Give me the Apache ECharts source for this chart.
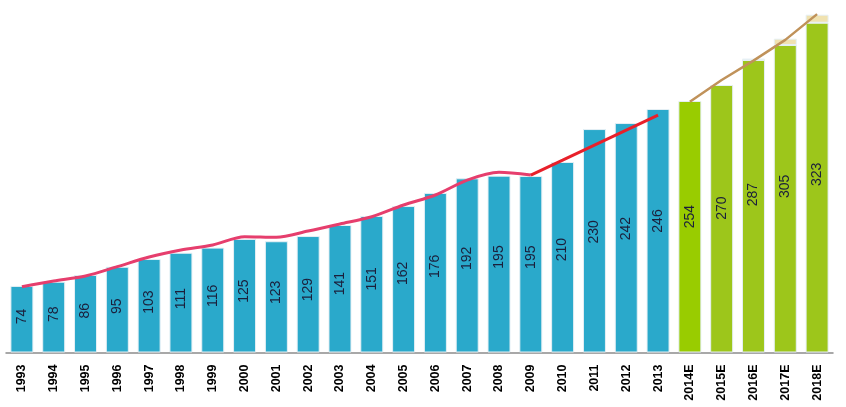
<!DOCTYPE html>
<html>
<head>
<meta charset="utf-8">
<script src="https://cdn.jsdelivr.net/npm/echarts@6/dist/echarts.min.js"></script>
<style>html,body{margin:0;padding:0;background:#fff;}#c{width:846px;height:407px;}</style>
</head>
<body>
<div id="c"></div>
<script>
const categories = ['1993','1994','1995','1996','1997','1998','1999','2000','2001','2002','2003','2004','2005','2006','2007','2008','2009','2010','2011','2012','2013','2014E','2015E','2016E','2017E','2018E'];
// value labels printed on the bars
const valueLabels = [74,78,86,95,103,111,116,125,123,129,141,151,162,176,192,195,195,210,230,242,246,254,270,287,305,323];
// bar heights as drawn in the picture (axis units)
const barHeights = [73,77.6,85,94,102.5,109.4,115,124.5,122,127.7,139.8,149.7,160.6,175,191,193.9,193.5,208.9,245,251.6,267,275.8,293.3,320.7,337.2,361.6];
// light caps on top of forecast bars
const capHeights = [null,null,null,null,null,null,null,null,null,null,null,null,null,null,null,null,null,null,null,null,null,null,null,1.6,6.9,8.8];
// trend lines
const pinkLine = [72.1,78.4,83.9,94.1,104.7,112.4,117.9,127,126.3,133.2,140.9,148.9,161.7,172.7,189.1,197.6,194.6,null,null,null,null,null,null,null,null,null];
const redLine = [null,null,null,null,null,null,null,null,null,null,null,null,null,null,null,null,194.6,211,227.5,243.9,260.3,null,null,null,null,null];
const tanLine = [null,null,null,null,null,null,null,null,null,null,null,null,null,null,null,null,null,null,null,null,null,275,298.8,320,342.8,371];

const blue = '#2aa9cb';
const greenFirst = '#99cc00';
const green = '#9dc61b';

const chart = echarts.init(document.getElementById('c'), null, {renderer: 'canvas'});
chart.setOption({
  animation: false,
  grid: {left: 6, right: 13, top: 10.5, bottom: 54.5, containLabel: false},
  xAxis: {
    type: 'category',
    data: categories,
    axisLine: {lineStyle: {color: '#8c8c8c', width: 1.5}},
    axisTick: {show: false},
    axisLabel: {
      interval: 0, rotate: 90, margin: 12,
      fontFamily: 'Liberation Sans, Arial, sans-serif',
      fontSize: 12.5, fontWeight: 'bold', color: '#000'
    }
  },
  yAxis: {
    type: 'value', min: 0, max: 375,
    show: false, splitLine: {show: false}
  },
  series: [
    {
      type: 'bar', stack: 'a', barWidth: 23,
      data: barHeights.map((v, i) => ({
        value: v,
        itemStyle: {color: i < 21 ? blue : (i === 21 ? greenFirst : green)}
      })),
      itemStyle: {borderColor: '#e6f0f5', borderWidth: 1},
      label: {
        show: true, rotate: 90, position: ['50%', '46%'],
        align: 'center', verticalAlign: 'middle',
        fontFamily: 'Liberation Sans, Arial, sans-serif',
        fontSize: 14, color: '#1b1f3b',
        formatter: p => String(valueLabels[p.dataIndex])
      },
      z: 2
    },
    {
      type: 'bar', stack: 'a', barWidth: 23,
      data: capHeights,
      itemStyle: {color: '#f0e2b0', borderColor: '#e6f0f5', borderWidth: 1},
      z: 2
    },
    {
      type: 'line', data: pinkLine, smooth: 0.3, showSymbol: false,
      lineStyle: {color: '#e63e6d', width: 3}, z: 5
    },
    {
      type: 'line', data: redLine, showSymbol: false,
      lineStyle: {color: '#e8202a', width: 3}, z: 6
    },
    {
      type: 'line', data: tanLine, showSymbol: false,
      lineStyle: {color: '#c0925a', width: 2.5}, z: 6
    }
  ]
});
</script>
</body>
</html>
